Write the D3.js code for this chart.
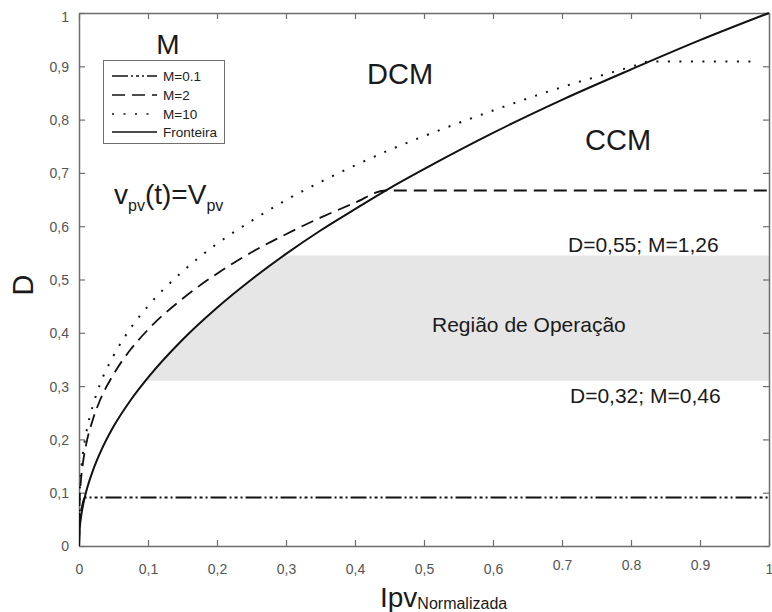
<!DOCTYPE html>
<html>
<head>
<meta charset="utf-8">
<script src="https://cdn.jsdelivr.net/npm/d3@7"></script>
<style>
  html, body { margin: 0; padding: 0; background: #fff; }
  svg { display: block; font-family: "Liberation Sans", Arial, sans-serif; }
</style>
</head>
<body>
<svg id="chart" width="772" height="612"></svg>
<script>
// ---- data ----
const xTicks = [0, 0.1, 0.2, 0.3, 0.4, 0.5, 0.6, 0.7, 0.8, 0.9, 1];
const xTickLabels = ["0", "0,1", "0,2", "0,3", "0,4", "0,5", "0,6", "0.7", "0.8", "0.9", "1"];
const yTicks = [0, 0.1, 0.2, 0.3, 0.4, 0.5, 0.6, 0.7, 0.8, 0.9, 1];
const yTickLabels = ["0", "0,1", "0,2", "0,3", "0,4", "0,5", "0,6", "0,7", "0,8", "0,9", "1"];

const fronteiraI = [0, 0.0005, 0.001, 0.002, 0.005, 0.01, 0.02, 0.03, 0.05, 0.075, 0.1, 0.15, 0.2, 0.25, 0.3, 0.35, 0.4, 0.45, 0.5, 0.6, 0.7, 0.8, 0.9, 1.0];
const fronteiraD = [0, 0.022, 0.032, 0.045, 0.071, 0.1, 0.141, 0.173, 0.224, 0.274, 0.316, 0.387, 0.447, 0.5, 0.548, 0.592, 0.632, 0.671, 0.707, 0.775, 0.837, 0.894, 0.949, 1.0];

const m10I = [0, 0.001, 0.002, 0.005, 0.01, 0.02, 0.03, 0.05, 0.075, 0.1, 0.15, 0.2, 0.25, 0.3, 0.35, 0.4, 0.45, 0.5, 0.6, 0.7, 0.8, 0.826, 0.98];
const m10D = [0, 0.097, 0.122, 0.166, 0.209, 0.263, 0.302, 0.357, 0.409, 0.450, 0.515, 0.567, 0.610, 0.649, 0.683, 0.714, 0.743, 0.769, 0.817, 0.861, 0.899, 0.909, 0.909];

const m2I = [0, 0.001, 0.002, 0.005, 0.01, 0.02, 0.03, 0.05, 0.075, 0.1, 0.15, 0.2, 0.25, 0.3, 0.35, 0.4, 0.444, 1.0];
const m2D = [0, 0.087, 0.110, 0.149, 0.188, 0.237, 0.272, 0.322, 0.369, 0.406, 0.464, 0.511, 0.551, 0.585, 0.616, 0.644, 0.667, 0.667];

const m01I = [0, 0.001, 0.002, 0.005, 0.0083, 1.0];
const m01D = [0, 0.045, 0.057, 0.077, 0.091, 0.091];

// operating region: bounded left by the boundary curve, D between 0.31 and 0.545
const regionI = [0.096, 0.15, 0.2, 0.25, 0.297, 1.0, 1.0];
const regionD = [0.31, 0.387, 0.447, 0.5, 0.545, 0.545, 0.31];

const legendLabels = ["M=0.1", "M=2", "M=10", "Fronteira"];

// ---- layout ----
const svg = d3.select("#chart");
const pLeft = 79, pRight = 769, pTop = 13, pBottom = 546;
const x = d3.scaleLinear().domain([0, 1]).range([pLeft, pRight]);
const y = d3.scaleLinear().domain([0, 1]).range([pBottom, pTop]);
const axisColor = "#6e6e6e";
const labelColor = "#555";

svg.append("defs").append("clipPath").attr("id", "plotclip")
  .append("rect").attr("x", pLeft).attr("y", pTop - 2).attr("width", pRight - pLeft + 2).attr("height", pBottom - pTop + 2);

// region
const regionPts = regionI.map((v, i) => [x(v), y(regionD[i])]);
svg.append("path")
  .attr("d", d3.line()(regionPts) + "Z")
  .attr("fill", "#e6e6e6");

// axes (box with inward ticks)
function styleAxis(g) {
  g.selectAll("path.domain").attr("stroke", axisColor).attr("stroke-width", 1.5);
  g.selectAll(".tick line").attr("stroke", axisColor).attr("stroke-width", 1.2);
}
const gx = svg.append("g").attr("transform", `translate(0,${pBottom})`)
  .call(d3.axisBottom(x).tickValues(xTicks).tickSizeInner(-6).tickSizeOuter(0)
    .tickPadding(0).tickFormat((d, i) => xTickLabels[i]));
styleAxis(gx);
gx.selectAll(".tick text")
  .attr("font-size", 14).attr("fill", labelColor)
  .attr("font-family", "Liberation Sans, Arial, sans-serif")
  .attr("dy", null)
  .attr("y", (d, i) => (i >= 7 && i <= 9) ? 24 : 28);

const gxt = svg.append("g").attr("transform", `translate(0,${pTop})`)
  .call(d3.axisTop(x).tickValues(xTicks).tickSizeInner(-6).tickSizeOuter(0).tickFormat(""));
styleAxis(gxt);

const gy = svg.append("g").attr("transform", `translate(${pLeft},0)`)
  .call(d3.axisLeft(y).tickValues(yTicks).tickSizeInner(-6).tickSizeOuter(0)
    .tickPadding(10).tickFormat((d, i) => yTickLabels[i]));
styleAxis(gy);
gy.selectAll(".tick text")
  .attr("font-size", 14).attr("fill", labelColor)
  .attr("font-family", "Liberation Sans, Arial, sans-serif")
  .attr("dy", (d) => d === 1 ? "0.6em" : "0.35em");

const gyr = svg.append("g").attr("transform", `translate(${pRight},0)`)
  .call(d3.axisRight(y).tickValues(yTicks).tickSizeInner(-6).tickSizeOuter(0).tickFormat(""));
styleAxis(gyr);

// curves
const line = d3.line().x(d => x(d[0])).y(d => y(d[1])).curve(d3.curveMonotoneX);
const plot = svg.append("g").attr("clip-path", "url(#plotclip)");

const styles = {
  m01: { dash: "16,3,2,3,3,3,2,3", width: 2 },
  m2: { dash: "13,7", width: 1.8 },
  m10: { dash: "2,9.5", width: 2 },
  fr: { dash: null, width: 2 }
};

function drawSeries(I, D, st) {
  plot.append("path")
    .datum(I.map((v, i) => [v, D[i]]))
    .attr("d", line)
    .attr("fill", "none")
    .attr("stroke", "#111")
    .attr("stroke-width", st.width)
    .attr("stroke-dasharray", st.dash);
}
drawSeries(m01I, m01D, styles.m01);
drawSeries(m2I, m2D, styles.m2);
drawSeries(m10I, m10D, styles.m10);
drawSeries(fronteiraI, fronteiraD, styles.fr);

// legend
const lg = svg.append("g");
lg.append("rect").attr("x", 103.5).attr("y", 60.5).attr("width", 121).attr("height", 83)
  .attr("fill", "#fff").attr("stroke", axisColor).attr("stroke-width", 1);
const legStyles = [styles.m01, styles.m2, styles.m10, styles.fr];
const rowY = [76, 95, 114, 132];
legendLabels.forEach((lab, i) => {
  lg.append("line").attr("x1", 112).attr("x2", 157).attr("y1", rowY[i]).attr("y2", rowY[i])
    .attr("stroke", "#111").attr("stroke-width", 1.6)
    .attr("stroke-dasharray", legStyles[i].dash);
  lg.append("text").attr("x", 163).attr("y", rowY[i] + 5)
    .attr("font-size", 13.5).attr("fill", "#222").text(lab);
});

// annotations
svg.append("text").attr("x", 168).attr("y", 54).attr("text-anchor", "middle")
  .attr("font-size", 28).attr("fill", "#1a1a1a").text("M");
svg.append("text").attr("x", 367).attr("y", 84)
  .attr("font-size", 29).attr("fill", "#1a1a1a").text("DCM");
svg.append("text").attr("x", 585).attr("y", 150)
  .attr("font-size", 29).attr("fill", "#1a1a1a").text("CCM");

const vt = svg.append("text").attr("x", 114).attr("y", 204)
  .attr("font-size", 28).attr("fill", "#1a1a1a");
vt.append("tspan").text("v");
vt.append("tspan").attr("font-size", 16).attr("dy", 7).text("pv");
vt.append("tspan").attr("dy", -7).text("(t)=V");
vt.append("tspan").attr("font-size", 16).attr("dy", 7).text("pv");

svg.append("text").attr("x", 568).attr("y", 252)
  .attr("font-size", 21).attr("fill", "#1a1a1a").text("D=0,55; M=1,26");
svg.append("text").attr("x", 432).attr("y", 332)
  .attr("font-size", 21).attr("fill", "#1a1a1a").text("Região de Operação");
svg.append("text").attr("x", 570).attr("y", 403)
  .attr("font-size", 21).attr("fill", "#1a1a1a").text("D=0,32; M=0,46");

// axis titles
svg.append("text").attr("transform", "translate(33,285) rotate(-90)")
  .attr("text-anchor", "middle").attr("font-size", 29).attr("fill", "#1a1a1a").text("D");
const xl = svg.append("text").attr("x", 380).attr("y", 607)
  .attr("font-size", 28).attr("fill", "#1a1a1a");
xl.append("tspan").text("Ipv");
xl.append("tspan").attr("font-size", 16).attr("dy", 2).text("Normalizada");
</script>
</body>
</html>
